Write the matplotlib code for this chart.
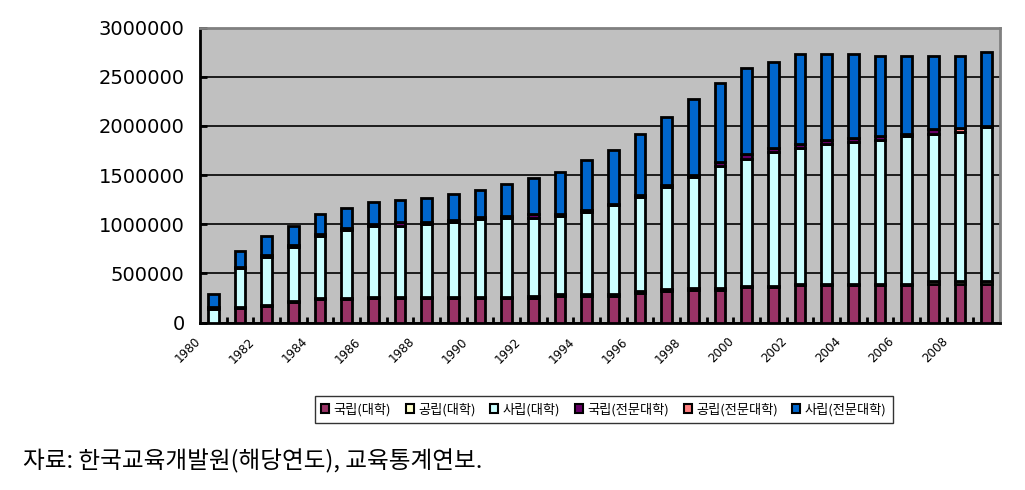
import matplotlib
matplotlib.use('Agg')
import matplotlib.pyplot as plt
import matplotlib.ticker as ticker
from matplotlib.patches import Patch
from matplotlib.font_manager import FontProperties
import numpy as np

years = list(range(1980, 2010))

# enrolled students by type of school
nat_univ = [0, 149000, 169000, 210000, 237000, 237000, 251000, 251000, 251000, 251000,
            251000, 251000, 251000, 271000, 271000, 271000, 298000, 318000, 332000, 332000,
            359000, 359000, 379000, 379000, 379000, 379000, 379000, 389000, 389000, 389000]
pub_univ = [0, 10000, 10000, 10000, 10000, 10000, 10000, 10000, 10000, 10000,
            10000, 10000, 15000, 15000, 15000, 18000, 18000, 18000, 18000, 18000,
            15000, 15000, 13000, 13000, 13000, 13000, 13000, 30000, 30000, 30000]
priv_univ = [140000, 391000, 486000, 547000, 636000, 697000, 724000, 724000, 745000, 765000,
             789000, 806000, 801000, 801000, 842000, 907000, 961000, 1043000, 1131000, 1244000,
             1291000, 1359000, 1382000, 1426000, 1447000, 1467000, 1508000, 1501000, 1522000, 1566000]
nat_jc = [13000, 13000, 20000, 20000, 20000, 13000, 13000, 32000, 15000, 15000,
          20000, 13000, 33000, 13000, 13000, 13000, 15000, 15000, 15000, 40000,
          47000, 40000, 40000, 40000, 37000, 40000, 15000, 47000, 0, 13000]
pub_jc = [0, 0, 0, 0, 0, 0, 0, 0, 0, 0,
          0, 0, 0, 0, 0, 0, 0, 0, 0, 0,
          0, 0, 0, 0, 0, 0, 0, 0, 37000, 0]
priv_jc = [137000, 163000, 191000, 191000, 197000, 204000, 225000, 232000, 249000, 270000,
           281000, 333000, 374000, 435000, 510000, 544000, 625000, 699000, 778000, 803000,
           878000, 878000, 919000, 875000, 857000, 813000, 797000, 745000, 734000, 751000]

series = [nat_univ, pub_univ, priv_univ, nat_jc, pub_jc, priv_jc]
names = ['국립(대학)', '공립(대학)', '사립(대학)', '국립(전문대학)', '공립(전문대학)', '사립(전문대학)']
colors = ['#993366', '#FFFFCC', '#CCFFFF', '#660066', '#FF8080', '#0066CC']

yticks = [0, 500000, 1000000, 1500000, 2000000, 2500000, 3000000]

kr = 'Noto Sans CJK KR'

fig = plt.figure(figsize=(10.25, 4.9), dpi=100)
ax = fig.add_axes([200/1025, (490-322.5)/490, 800/1025, (322.5-27.5)/490])
ax.set_facecolor('#C0C0C0')

x = np.arange(len(years))
bottom = np.zeros(len(years))
for vals, c in zip(series, colors):
    ax.bar(x, vals, bottom=bottom, width=0.4, color=c, edgecolor='black', linewidth=2, zorder=3)
    bottom += np.array(vals)

ax.set_xlim(-0.5, len(years) - 0.5)
ax.set_ylim(0, 3000000)
ax.set_yticks(yticks)
ax.yaxis.set_major_formatter(ticker.FuncFormatter(lambda v, p: '%d' % v))
ax.yaxis.grid(True, color='black', linewidth=1.2, zorder=1)
ax.set_axisbelow(True)
ax.tick_params(axis='y', direction='in', length=5, width=2, pad=11, labelsize=14)

# year labels sit a little left of the category centre, like the excel original
ax.set_xticks(x[::2] - 0.37)
ax.set_xticklabels([str(y) for y in years[::2]], rotation=45, ha='right', va='top',
                   fontsize=9.5, fontstretch='condensed')
ax.set_xticks(x[:-1] + 0.5, minor=True)
ax.tick_params(axis='x', which='major', length=0, pad=9)
ax.tick_params(axis='x', which='minor', direction='in', length=4, width=2)

for side in ['left', 'bottom']:
    ax.spines[side].set_color('black')
    ax.spines[side].set_linewidth(2)
for side in ['top', 'right']:
    ax.spines[side].set_color('#808080')
    ax.spines[side].set_linewidth(2)

handles = [Patch(facecolor=c, edgecolor='black', linewidth=1.5) for c in colors]
leg = fig.legend(handles, names, loc='center', bbox_to_anchor=(604/1025, 1 - 409.5/490),
                 ncol=6, prop=FontProperties(family=kr, size=9.5), frameon=True,
                 fancybox=False, handlelength=0.6, handleheight=0.6, handletextpad=0.35,
                 columnspacing=1.1, borderpad=0.5)
leg.get_frame().set_edgecolor('black')
leg.get_frame().set_linewidth(1)

fig.text(23/1025, 1 - 461/490, '자료: 한국교육개발원(해당연도), 교육통계연보.',
         fontsize=17, family=kr, va='center', ha='left')

plt.savefig('out.png', dpi=100)
